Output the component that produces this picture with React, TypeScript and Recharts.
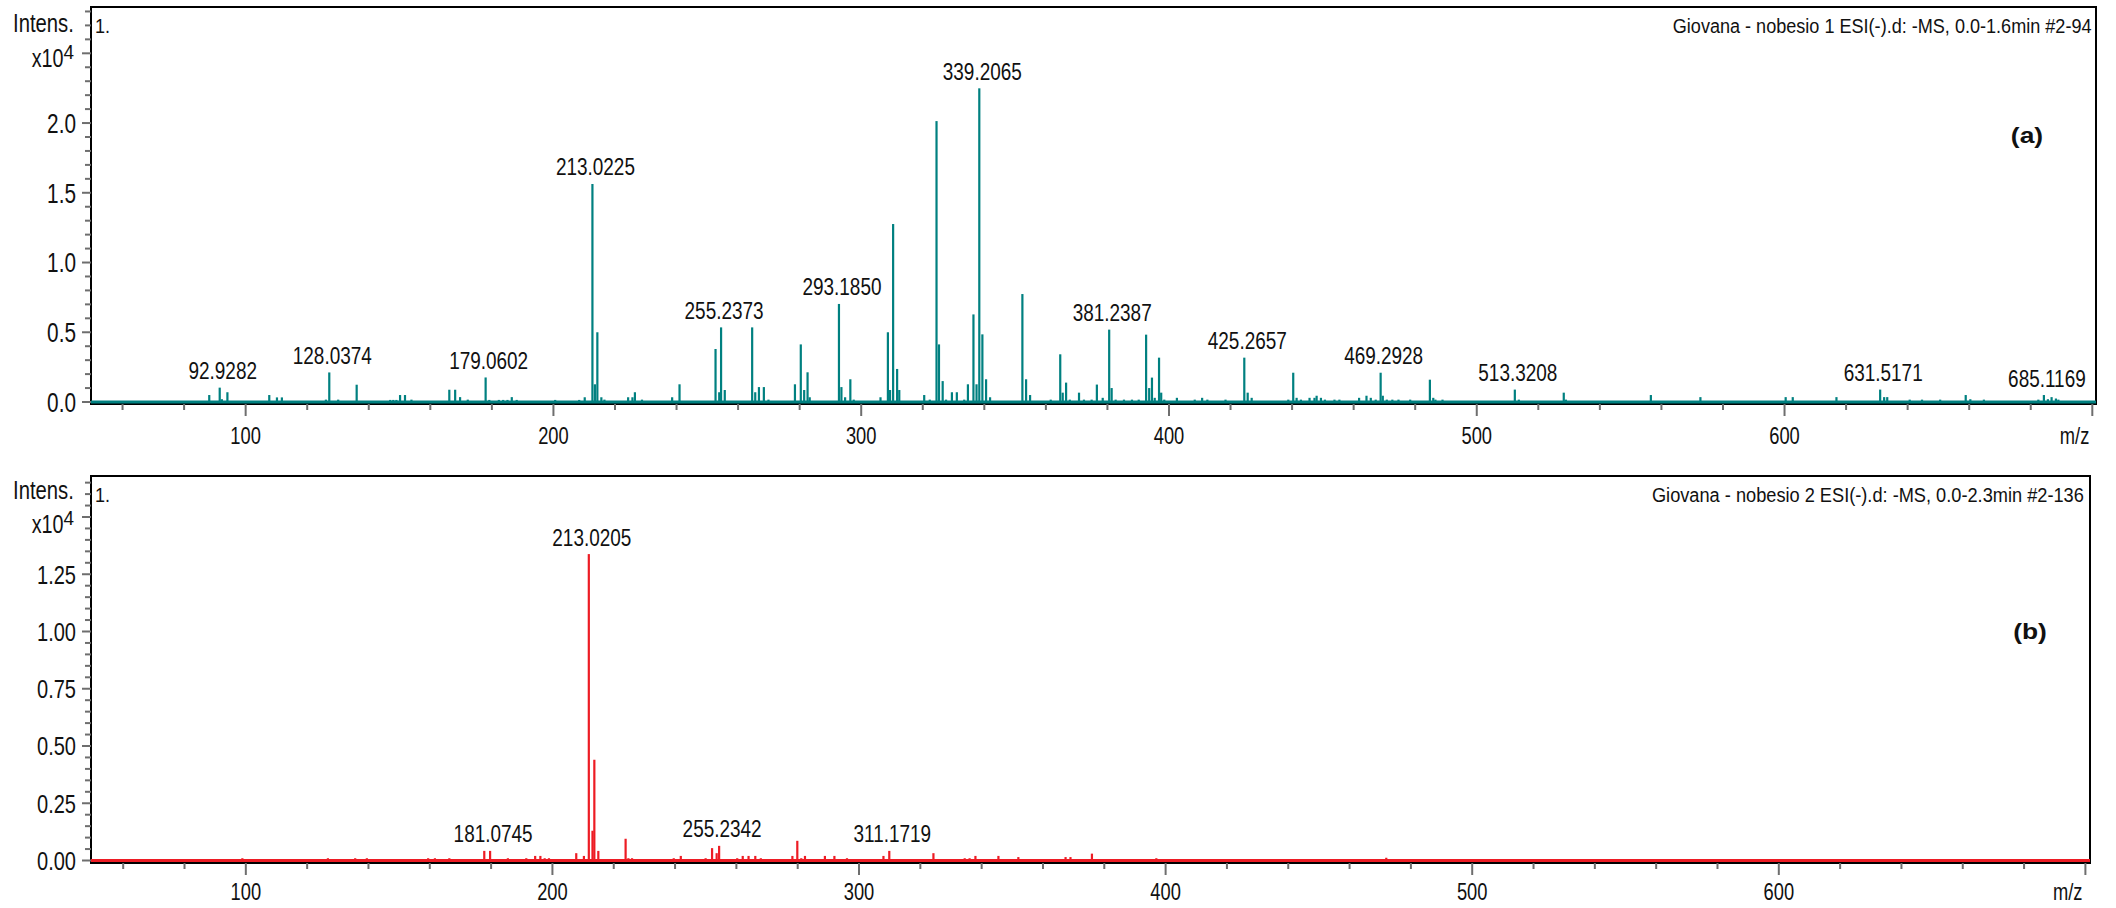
import React from 'react';
import { BarChart, Bar, XAxis, YAxis, ReferenceLine, ReferenceArea, LabelList } from 'recharts';

const FONT = "'Liberation Sans', Arial, sans-serif";

// ---------- Spectrum (a): m/z and intensity (x10^4) ----------
const mzA = [
  88.2, 91.6, 92.3, 94.1, 107.7, 110.2, 111.8, 126.1, 127.2, 130.1, 136.1, 147.0, 148.0, 149.0,
  150.2, 151.8, 153.9, 166.2, 168.1, 169.7, 172.2, 178.0, 179.2, 182.3, 183.7, 185.1, 186.5, 188.1,
  200.6, 208.4, 210.2, 212.7, 213.5, 214.3, 215.6, 216.6, 224.3, 225.7, 226.5, 228.8, 238.6, 241.0,
  252.7, 253.9, 254.5, 255.7, 264.6, 265.6, 266.8, 268.4, 269.9, 278.5, 280.4, 281.5, 282.6, 283.3,
  292.8, 293.6, 294.8, 296.5, 297.6, 306.3, 308.7, 309.4, 310.4, 311.7, 312.4, 320.5, 322.3, 324.5,
  325.3, 326.5, 327.6, 329.5, 331.1, 333.5, 334.7, 336.5, 337.5, 338.4, 339.4, 340.6, 341.9, 352.4,
  353.6, 354.9, 361.6, 364.7, 365.5, 366.6, 367.8, 370.8, 372.4, 374.9, 376.6, 378.5, 380.6, 381.4,
  382.7, 385.4, 388.0, 390.2, 392.6, 393.6, 394.5, 395.4, 396.8, 397.5, 398.5, 402.6, 408.4, 410.8,
  412.5, 418.4, 424.5, 425.6, 426.9, 438.8, 440.4, 441.5, 442.9, 445.7, 447.3, 448.0, 449.4, 450.7,
  453.8, 455.4, 461.8, 464.2, 465.6, 467.2, 468.8, 469.5, 470.8, 472.6, 474.6, 478.4, 484.8, 485.9,
  486.6, 488.9, 512.4, 513.7, 528.3, 529.0, 556.6, 572.7, 600.4, 602.7, 616.9, 631.1, 632.4, 633.4,
  640.7, 644.7, 650.6, 658.9, 660.4, 664.8, 682.5, 684.3, 685.6, 686.8, 688.2, 689.0,
];
const intA = [
  0.05, 0.103, 0.02, 0.07, 0.05, 0.033, 0.033, 0.017, 0.212, 0.017, 0.124, 0.015, 0.015, 0.015,
  0.05, 0.05, 0.017, 0.088, 0.088, 0.035, 0.017, 0.176, 0.015, 0.015, 0.015, 0.015, 0.035, 0.015,
  0.015, 0.015, 0.034, 1.563, 0.127, 0.5, 0.034, 0.017, 0.034, 0.034, 0.07, 0.017, 0.034, 0.127,
  0.38, 0.07, 0.535, 0.086, 0.535, 0.07, 0.107, 0.107, 0.017, 0.127, 0.413, 0.086, 0.213, 0.034,
  0.703, 0.107, 0.034, 0.163, 0.017, 0.034, 0.5, 0.086, 1.276, 0.237, 0.086, 0.05, 0.017, 2.014,
  0.413, 0.15, 0.017, 0.07, 0.07, 0.017, 0.127, 0.628, 0.127, 2.249, 0.485, 0.163, 0.034, 0.774,
  0.163, 0.05, 0.017, 0.342, 0.067, 0.139, 0.017, 0.067, 0.017, 0.017, 0.125, 0.03, 0.519, 0.1,
  0.017, 0.017, 0.017, 0.017, 0.483, 0.1, 0.175, 0.03, 0.318, 0.067, 0.017, 0.03, 0.017, 0.03,
  0.017, 0.017, 0.318, 0.067, 0.03, 0.017, 0.21, 0.03, 0.017, 0.03, 0.03, 0.045, 0.03, 0.017,
  0.017, 0.017, 0.03, 0.045, 0.03, 0.017, 0.21, 0.045, 0.017, 0.017, 0.017, 0.017, 0.16, 0.03,
  0.017, 0.017, 0.089, 0.017, 0.067, 0.017, 0.05, 0.035, 0.035, 0.035, 0.035, 0.089, 0.035, 0.035,
  0.017, 0.017, 0.017, 0.05, 0.02, 0.017, 0.017, 0.05, 0.02, 0.035, 0.025, 0.017,
];
const labelMzA = [91.6, 127.2, 178.0, 212.7, 254.5, 292.8, 338.4, 380.6, 424.5, 468.8, 512.4, 631.1, 684.3];
const labelTextA = ['92.9282', '128.0374', '179.0602', '213.0225', '255.2373', '293.1850', '339.2065',
  '381.2387', '425.2657', '469.2928', '513.3208', '631.5171', '685.1169'];

// ---------- Spectrum (b) ----------
const mzB = [
  98.9, 126.8, 135.7, 139.5, 159.5, 161.7, 166.4, 177.8, 179.7, 185.5, 191.5, 194.4, 196.1, 197.5,
  198.9, 207.8, 210.3, 211.9, 213.1, 213.7, 215.0, 223.9, 224.8, 226.0, 239.6, 241.9, 250.0, 252.1,
  253.6, 254.4, 260.3, 262.1, 264.0, 266.2, 268.0, 278.3, 279.9, 281.2, 282.4, 288.9, 292.0, 296.1,
  308.0, 309.9, 324.3, 334.5, 336.1, 338.0, 345.5, 352.0, 367.4, 369.0, 376.0, 397.0, 472.0,
];
const intB = [
  0.01, 0.01, 0.01, 0.01, 0.01, 0.01, 0.01, 0.042, 0.042, 0.01, 0.01, 0.02, 0.02, 0.01,
  0.01, 0.032, 0.02, 1.338, 0.13, 0.44, 0.042, 0.095, 0.01, 0.01, 0.01, 0.02, 0.01, 0.054,
  0.032, 0.064, 0.01, 0.02, 0.02, 0.02, 0.01, 0.02, 0.086, 0.01, 0.02, 0.02, 0.02, 0.01,
  0.02, 0.042, 0.032, 0.01, 0.01, 0.02, 0.02, 0.015, 0.015, 0.015, 0.03, 0.01, 0.012,
];
const labelMzB = [179.7, 211.9, 254.4, 309.9];
const labelTextB = ['181.0745', '213.0205', '255.2342', '311.1719'];

// ---------- Axis ticks ----------
const xTicks = [60, 80, 100, 120, 140, 160, 180, 200, 220, 240, 260, 280, 300, 320, 340, 360, 380, 400,
  420, 440, 460, 480, 500, 520, 540, 560, 580, 600, 620, 640, 660, 680, 700];
const xLabelValues = [100, 200, 300, 400, 500, 600];
const xMajorValues = [100, 200, 300, 400, 500, 600, 700];

const yTicksA = [0, 0.1, 0.2, 0.3, 0.4, 0.5, 0.6, 0.7, 0.8, 0.9, 1.0, 1.1, 1.2, 1.3, 1.4, 1.5, 1.6, 1.7,
  1.8, 1.9, 2.0, 2.1, 2.2, 2.3, 2.4, 2.5, 2.6, 2.7, 2.8];
const yMajorA = [0, 0.5, 1.0, 1.5, 2.0, 2.5];
const yLabelA = [0, 0.5, 1.0, 1.5, 2.0];

const yTicksB = [0, 0.05, 0.1, 0.15, 0.2, 0.25, 0.3, 0.35, 0.4, 0.45, 0.5, 0.55, 0.6, 0.65, 0.7, 0.75,
  0.8, 0.85, 0.9, 0.95, 1.0, 1.05, 1.1, 1.15, 1.2, 1.25, 1.3, 1.35, 1.4, 1.45, 1.5, 1.55, 1.6, 1.65];
const yMajorB = [0, 0.25, 0.5, 0.75, 1.0, 1.25, 1.5];
const yLabelB = [0, 0.25, 0.5, 0.75, 1.0, 1.25];

const TICK_GRAY = '#6e6e6e';
const near = (list: number[], v: number) => list.some((m) => Math.abs(m - v) < 1e-6);

// narrow text: a normal sans font squeezed horizontally around its anchor point
function T(props: {
  x: number; y: number; size: number; sx?: number; anchor?: 'start' | 'middle' | 'end';
  weight?: string; dy?: string; children: React.ReactNode;
}) {
  const { x, y, size, sx = 1, anchor = 'start', weight = 'normal', dy, children } = props;
  return (
    <text
      transform={`translate(${x},${y}) scale(${sx},1)`}
      x={0}
      y={0}
      dy={dy}
      textAnchor={anchor}
      fontFamily={FONT}
      fontSize={size}
      fontWeight={weight}
      fill="#111"
    >
      {children}
    </text>
  );
}

type PanelProps = {
  mz: number[];
  inten: number[];
  labelMz: number[];
  labelText: string[];
  color: string;
  height: number;
  marginTop: number;
  marginRight: number;
  xAxisHeight: number;
  xDomain: [number, number];
  yDomain: [number, number];
  yTicks: number[];
  yMajor: number[];
  yLabels: number[];
  yDecimals: number;
  yFont: number;
  xLabelDy: number;
};

function Panel(p: PanelProps) {
  const data = p.mz.map((m, i) => {
    const li = p.labelMz.findIndex((l) => Math.abs(l - m) < 1e-6);
    return { mz: m, int: p.inten[i], label: li >= 0 ? p.labelText[li] : undefined };
  });

  const YTick = (props: any) => {
    const { x, y, payload } = props;
    const v = payload.value as number;
    const major = near(p.yMajor, v);
    const lab = near(p.yLabels, v);
    return (
      <g>
        <line x1={x - (major ? 9 : 6)} x2={x} y1={y} y2={y} stroke={TICK_GRAY} strokeWidth={2} />
        {lab && (
          <T x={x - 15} y={y} dy="0.36em" anchor="end" size={p.yFont} sx={0.77}>
            {v.toFixed(p.yDecimals)}
          </T>
        )}
      </g>
    );
  };

  const XTick = (props: any) => {
    const { x, y, payload } = props;
    const v = payload.value as number;
    const major = near(xMajorValues, v);
    const lab = near(xLabelValues, v);
    return (
      <g>
        <line x1={x} x2={x} y1={y} y2={y + (major ? 12 : 6)} stroke={TICK_GRAY} strokeWidth={2} />
        {lab && (
          <T x={x} y={y + p.xLabelDy} anchor="middle" size={23.5} sx={0.78}>
            {v}
          </T>
        )}
        {v === 700 && (
          <T x={x - 3} y={y + p.xLabelDy} anchor="end" size={23.5} sx={0.78}>
            m/z
          </T>
        )}
      </g>
    );
  };

  const Stick = (props: any) => {
    const { x, y, width, height } = props;
    const cx = x + width / 2;
    return <rect x={cx - 1.1} y={y} width={2.2} height={Math.max(height, 0)} fill={p.color} />;
  };

  const PeakLabel = (props: any) => {
    const vb = props.viewBox || props;
    if (!props.value) return null;
    const cx = Number(vb.x) + Number(vb.width) / 2;
    return (
      <T x={cx + 3} y={Number(vb.y) - 8.5} anchor="middle" size={23} sx={0.824}>
        {props.value}
      </T>
    );
  };

  return (
    <BarChart
      width={2116}
      height={p.height}
      data={data}
      margin={{ top: p.marginTop, right: p.marginRight, bottom: 0, left: 0 }}
      barCategoryGap={0}
    >
      <XAxis
        dataKey="mz"
        type="number"
        domain={p.xDomain}
        allowDataOverflow
        ticks={xTicks}
        interval={0}
        tick={<XTick />}
        tickSize={0}
        tickMargin={0}
        tickLine={false}
        axisLine={false}
        height={p.xAxisHeight}
      />
      <YAxis
        type="number"
        domain={p.yDomain}
        allowDataOverflow
        ticks={p.yTicks}
        interval={0}
        tick={<YTick />}
        tickSize={0}
        tickMargin={0}
        tickLine={false}
        axisLine={false}
        width={91}
      />
      <ReferenceLine y={0} stroke={p.color} strokeWidth={3} ifOverflow="visible" />
      <Bar dataKey="int" barSize={2} shape={<Stick />} isAnimationActive={false}>
        <LabelList dataKey="label" content={<PeakLabel />} />
      </Bar>
      <ReferenceArea
        x1={p.xDomain[0]}
        x2={p.xDomain[1]}
        y1={p.yDomain[0]}
        y2={p.yDomain[1]}
        fill="none"
        fillOpacity={0}
        stroke="#000"
        strokeWidth={2}
        ifOverflow="visible"
      />
    </BarChart>
  );
}

function Annotations() {
  return (
    <svg width={2116} height={908} style={{ position: 'absolute', left: 0, top: 0, pointerEvents: 'none' }}>
      {/* panel (a) */}
      <T x={13} y={32} size={26} sx={0.78}>Intens.</T>
      <T x={63.5} y={67} size={26} sx={0.76} anchor="end">x10</T>
      <T x={63.5} y={59} size={21} sx={0.9}>4</T>
      <T x={95} y={33} size={21} sx={0.86}>1.</T>
      <T x={2091.5} y={33} size={21} sx={0.861} anchor="end">
        Giovana - nobesio 1 ESI(-).d: -MS, 0.0-1.6min #2-94
      </T>
      <T x={2027} y={143} size={22} sx={1.2} weight="bold" anchor="middle">(a)</T>
      {/* panel (b) */}
      <T x={13} y={499} size={26} sx={0.78}>Intens.</T>
      <T x={63.5} y={533} size={26} sx={0.76} anchor="end">x10</T>
      <T x={63.5} y={525} size={21} sx={0.9}>4</T>
      <T x={95} y={501.5} size={21} sx={0.86}>1.</T>
      <T x={2083.8} y={501.5} size={21} sx={0.867} anchor="end">
        Giovana - nobesio 2 ESI(-).d: -MS, 0.0-2.3min #2-136
      </T>
      <T x={2030} y={639} size={22} sx={1.2} weight="bold" anchor="middle">(b)</T>
    </svg>
  );
}

export default function App() {
  return (
    <div style={{ position: 'absolute', left: 0, top: 0, width: 2116, height: 908, background: '#fff' }}>
      <div style={{ position: 'absolute', left: 0, top: 0 }}>
        <Panel
          mz={mzA}
          inten={intA}
          labelMz={labelMzA}
          labelText={labelTextA}
          color="#008080"
          height={460}
          marginTop={7}
          marginRight={20}
          xAxisHeight={56}
          xDomain={[49.75, 701.2]}
          yDomain={[-0.0143, 2.832]}
          yTicks={yTicksA}
          yMajor={yMajorA}
          yLabels={yLabelA}
          yDecimals={1}
          yFont={27}
          xLabelDy={40}
        />
      </div>
      <div style={{ position: 'absolute', left: 0, top: 460 }}>
        <Panel
          mz={mzB}
          inten={intB}
          labelMz={labelMzB}
          labelText={labelTextB}
          color="#ed1c24"
          height={448}
          marginTop={16}
          marginRight={26}
          xAxisHeight={45}
          xDomain={[49.5, 701.5]}
          yDomain={[-0.0109, 1.679]}
          yTicks={yTicksB}
          yMajor={yMajorB}
          yLabels={yLabelB}
          yDecimals={2}
          yFont={26}
          xLabelDy={37}
        />
      </div>
      <Annotations />
    </div>
  );
}
